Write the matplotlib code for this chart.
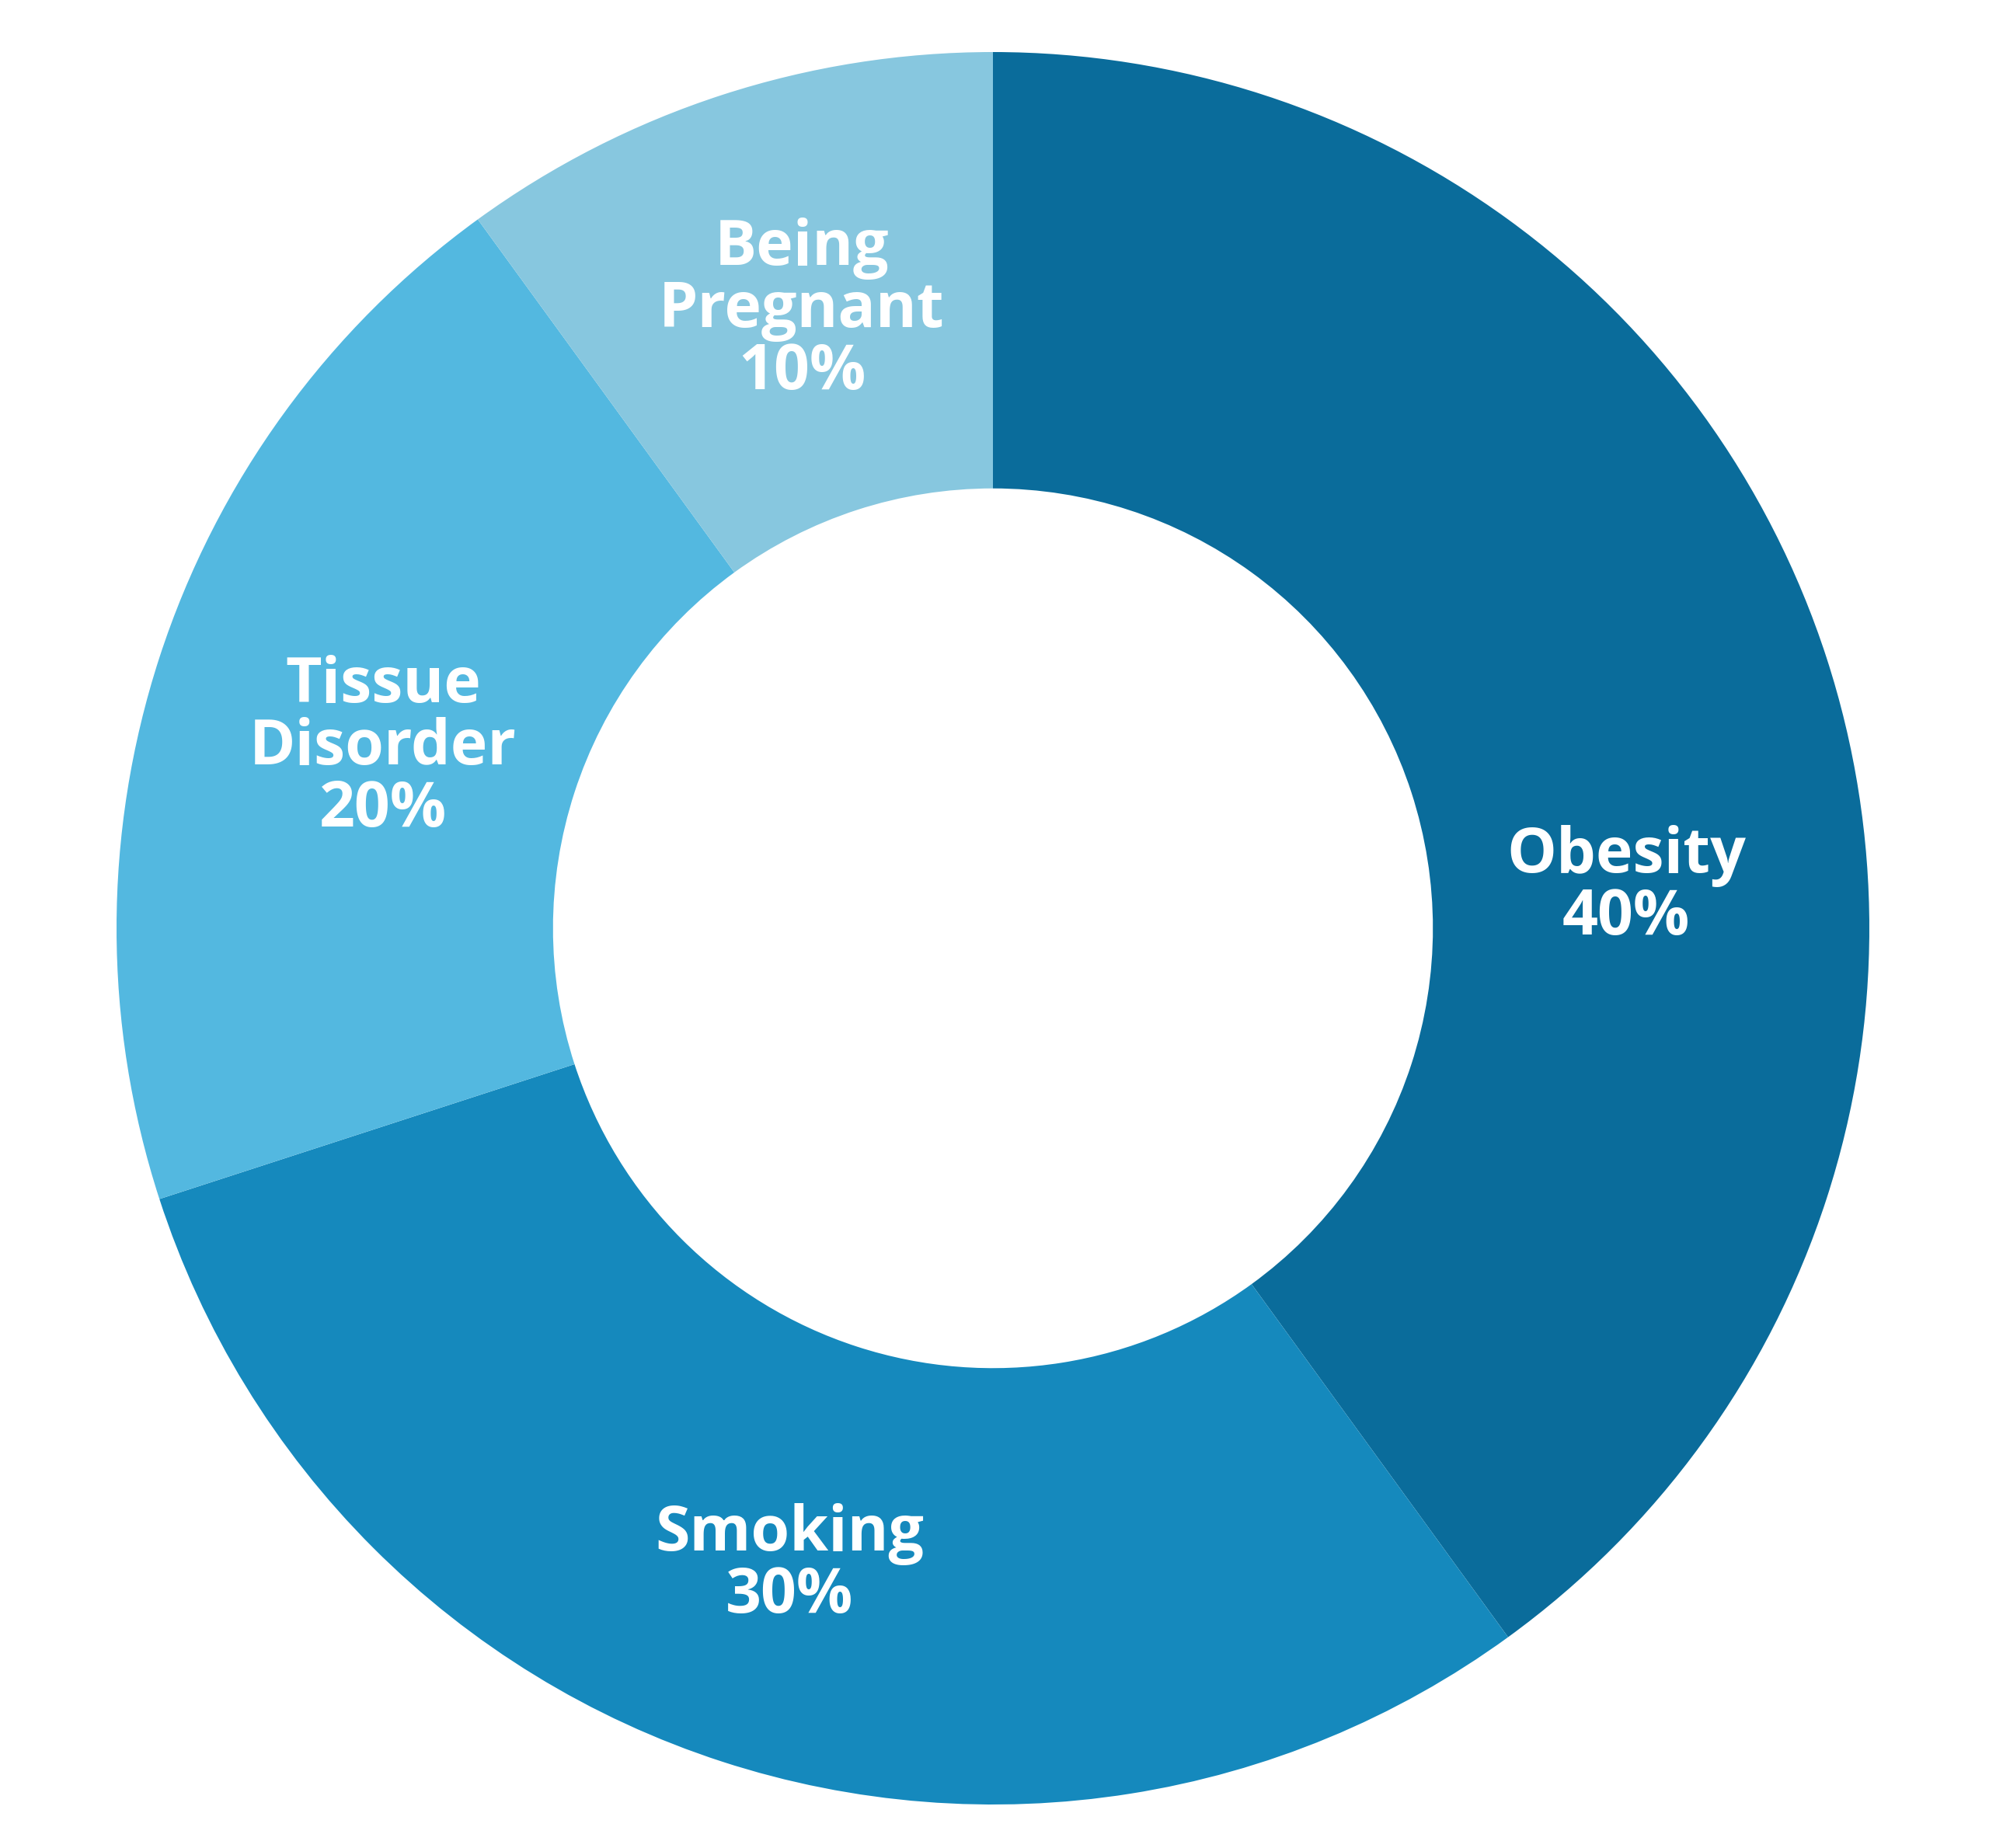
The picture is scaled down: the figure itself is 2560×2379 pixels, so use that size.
import matplotlib
matplotlib.use('Agg')
import matplotlib.pyplot as plt

labels = ['Obesity', 'Smoking', 'Tissue\nDisorder', 'Being\nPregnant']
values = [40, 30, 20, 10]
colors = ['#0a6c9b', '#1589bd', '#53b8e0', '#87c7df']

# label positions (in units of the outer radius)
label_pos = [(0.7225, 0.047), (-0.232, -0.727), (-0.696, 0.206), (-0.218, 0.705)]

fig = plt.figure(figsize=(25.6, 23.79), dpi=100)
ax = fig.add_axes([0, 0, 1, 1])

ax.pie(values, colors=colors, startangle=90, counterclock=False, radius=1,
       wedgeprops=dict(width=0.498, edgecolor='none'))

for lab, v, (x, y) in zip(labels, values, label_pos):
    ax.text(x, y, f'{lab}\n{v}%', ha='center', va='center', color='white',
            fontsize=58, fontweight='bold', family='Open Sans', linespacing=1.0)

r = 1128
cx, cy = 1278, 2379 - 1195
ax.set_xlim(-cx / r, (2560 - cx) / r)
ax.set_ylim(-cy / r, (2379 - cy) / r)
ax.set_aspect('auto')
ax.axis('off')

fig.savefig('out.png', dpi=100, facecolor='white')
